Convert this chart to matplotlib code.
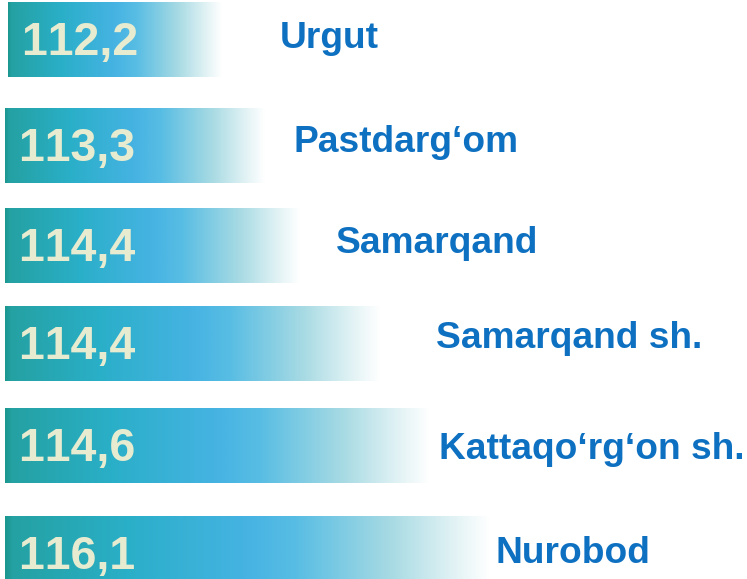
import numpy as np
import matplotlib
matplotlib.use("Agg")
import matplotlib.pyplot as plt
from matplotlib.colors import to_rgb

# ---- data ----
regions = ["Urgut", "Pastdarg\u2018om", "Samarqand", "Samarqand sh.",
           "Kattaqo\u2018rg\u2018on sh.", "Nurobod"]
values = [112.2, 113.3, 114.4, 114.4, 114.6, 116.1]
value_labels = ["112,2", "113,3", "114,4", "114,4", "114,6", "116,1"]
# displayed bar lengths (the original graphic is not to scale)
bar_lengths = [214, 260, 295, 375, 425, 485]

# ---- layout (pixel-like units) ----
bar_y = [40, 145.5, 245.5, 343.5, 445.5, 553.5]
bar_start = [8, 5, 5, 5, 5, 5]
bar_h = 75
label_x = [280, 294, 336, 436, 439, 496]
label_base = [47.7, 152.3, 253.3, 347.7, 459, 562.7]

fig = plt.figure(figsize=(7.47, 5.79), dpi=100)
ax = fig.add_axes([0, 0, 1, 1])
ax.set_xlim(0, 747)
ax.set_ylim(579, 0)
ax.axis("off")

stops = [(0.0, "#1B978F"), (0.015, "#24A1A2"), (0.25, "#2AAFC8"),
         (0.5, "#46B3E3"), (0.6, "#58BDE3"), (0.8, "#A9DBE4"),
         (0.93, "#E3F3F5"), (1.0, "#FFFFFF")]
pos = np.array([s[0] for s in stops])
cols = np.array([to_rgb(s[1]) for s in stops])
n = 400
t = np.linspace(0, 1, n)
grad = np.stack([np.interp(t, pos, cols[:, k]) for k in range(3)], axis=-1)
img = np.tile(grad[None, :, :], (20, 1, 1))

for i, (v, lab, vl, L) in enumerate(zip(values, regions, value_labels, bar_lengths)):
    x0, yc = bar_start[i], bar_y[i]
    ax.imshow(img, extent=[x0, x0 + L, yc + bar_h / 2, yc - bar_h / 2],
              aspect="auto", interpolation="bilinear", zorder=1)
    # zero-width spaces break the "11" kerning pair (tabular figures)
    ax.text(x0 + 14, yc + 15.5, "\u200b".join(vl), color="#E7EBCF",
            fontsize=33.5, fontweight="bold",
            family=["Liberation Sans", "DejaVu Sans"],
            ha="left", va="baseline", zorder=3)
    ax.text(label_x[i], label_base[i], lab, color="#0E70C1", fontsize=26.7,
            fontweight="bold", family="Liberation Sans", ha="left",
            va="baseline", zorder=3)

fig.savefig("out.png", dpi=100)
